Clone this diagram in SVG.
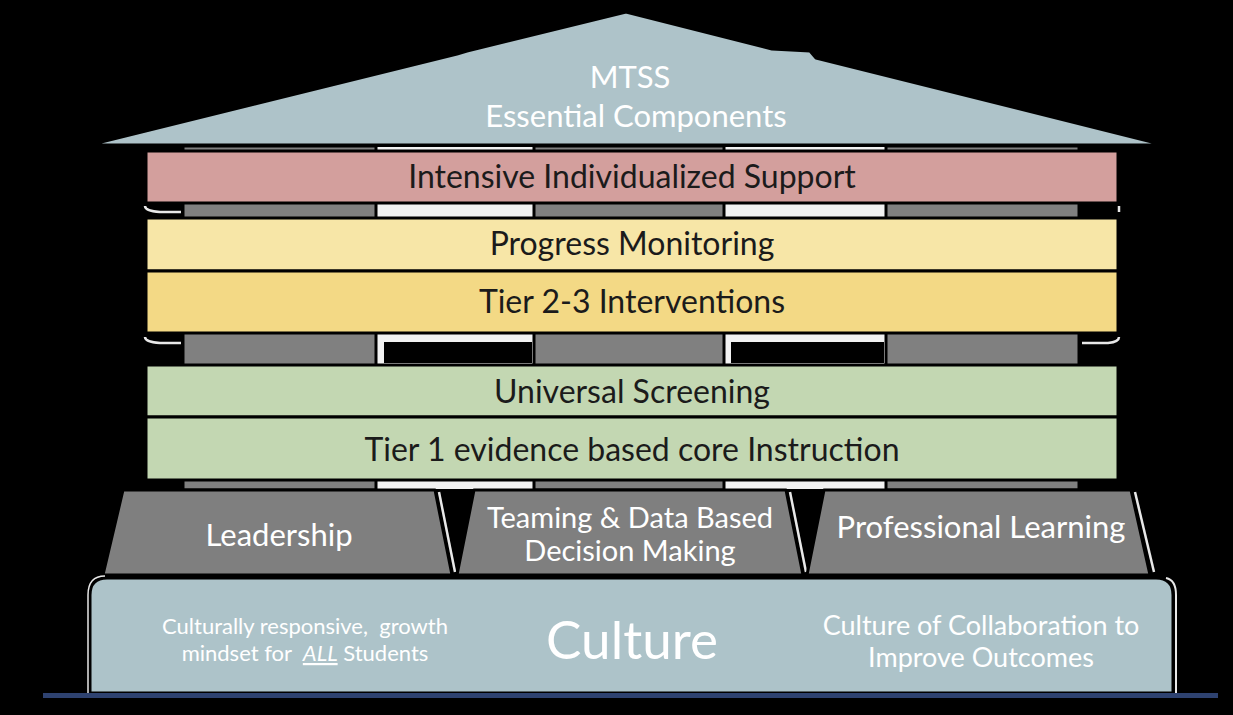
<svg xmlns="http://www.w3.org/2000/svg" width="1233" height="715" viewBox="0 0 1233 715">
<style>
.band{stroke:#000;stroke-width:3}
.bt{font-family:Lato,"Liberation Sans",sans-serif;font-size:32px;fill:#1b1b1b;text-anchor:middle}
.wt{font-family:Lato,"Liberation Sans",sans-serif;fill:#ffffff;text-anchor:middle}
.trap{fill:#7f7f7f;stroke:#000;stroke-width:3;stroke-linejoin:round}
.hl{fill:none;stroke:#e8e8e8;stroke-width:2.5}
.pillar{fill:#808080;stroke:#000;stroke-width:3}
.gap{fill:#f2f2f2;stroke:#000;stroke-width:2}
</style>
<rect width="1233" height="715" fill="#000"/>
<g id="pillars">
<rect class="gap" x="376" y="146" width="158" height="344"/>
<rect class="gap" x="724" y="146" width="162" height="344"/>
<rect x="384" y="342" width="148" height="21" fill="#000"/>
<rect x="731" y="342" width="153" height="21" fill="#000"/>
<rect class="pillar" x="183" y="146" width="193" height="344"/>
<rect class="pillar" x="534" y="146" width="190" height="344"/>
<rect class="pillar" x="886" y="146" width="193" height="344"/>
<path d="M145 206 Q145 211 160 212 L181 212" class="hl"/>
<path d="M145 337 Q145 342 160 343 L181 343" class="hl"/>
<path d="M1119 206 L1119 212" class="hl"/>
<path d="M1119 337 Q1119 342 1108 343 L1082 343" class="hl"/>
</g>
<g id="roof">
<polygon points="89,145 457,54 467,51 626,12 772,49 810,51 816,58 1164,145" fill="#aec3c9" stroke="#000" stroke-width="3" stroke-linejoin="round"/>
<text class="wt" x="630" y="88" font-size="31">MTSS</text>
<text class="wt" x="636" y="127" font-size="31">Essential Components</text>
</g>
<g id="intensive">
<rect class="band" x="146" y="151" width="972" height="52" fill="#d39f9d"/>
<text class="bt" x="632" y="188">Intensive Individualized Support</text>
</g>
<g id="progress">
<rect class="band" x="146" y="218" width="972" height="53" fill="#f7e6a7"/>
<text class="bt" x="632" y="255">Progress Monitoring</text>
</g>
<g id="tier23">
<rect class="band" x="146" y="271" width="972" height="62" fill="#f3d985"/>
<text class="bt" x="632" y="313">Tier 2-3 Interventions</text>
</g>
<g id="screening">
<rect class="band" x="146" y="365" width="972" height="52" fill="#c3d7b2"/>
<text class="bt" x="632" y="403">Universal Screening</text>
</g>
<g id="tier1">
<rect class="band" x="146" y="417" width="972" height="63" fill="#c3d7b2"/>
<text class="bt" x="632" y="461">Tier 1 evidence based core Instruction</text>
</g>
<g id="leadership">
<polygon class="trap" points="123,490 435,490 452,575 103,575"/>
<path class="hl" d="M439 492 L455 572"/>
<text class="wt" x="279" y="546" font-size="31">Leadership</text>
</g>
<g id="teaming">
<polygon class="trap" points="474,490 786,490 803,575 457,575"/>
<path class="hl" d="M790 492 L806 572"/>
<text class="wt" x="630" y="528" font-size="29">Teaming &amp; Data Based</text>
<text class="wt" x="630" y="561" font-size="29">Decision Making</text>
</g>
<g id="professional">
<polygon class="trap" points="824,490 1131,490 1150,575 807,575"/>
<path class="hl" d="M1135 492 L1154 572"/>
<text class="wt" x="981" y="538" font-size="31">Professional Learning</text>
</g>
<g id="culture">
<path d="M90 693 L90 595 Q90 578 107 578 L1156 578 Q1173 578 1173 595 L1173 693 Z" fill="#adc3c9" stroke="#000" stroke-width="3"/>
<path d="M88 693 L88 595 Q88 576 105 576" fill="none" stroke="#e8e8e8" stroke-width="1.5"/>
<path d="M1176 693 L1176 595 Q1176 580 1166 578" fill="none" stroke="#e8e8e8" stroke-width="2"/>
<rect x="43" y="693" width="1175" height="5" fill="#2e4270"/>
<text class="wt" x="305" y="634" font-size="22" xml:space="preserve">Culturally responsive,  growth</text>
<text class="wt" x="305" y="661" font-size="22" xml:space="preserve">mindset for  <tspan font-style="italic" text-decoration="underline">ALL</tspan> Students</text>
<text class="wt" x="632" y="659" font-size="53">Culture</text>
<text class="wt" x="981" y="635" font-size="27">Culture of Collaboration to</text>
<text class="wt" x="981" y="667" font-size="27">Improve Outcomes</text>
</g>
</svg>
